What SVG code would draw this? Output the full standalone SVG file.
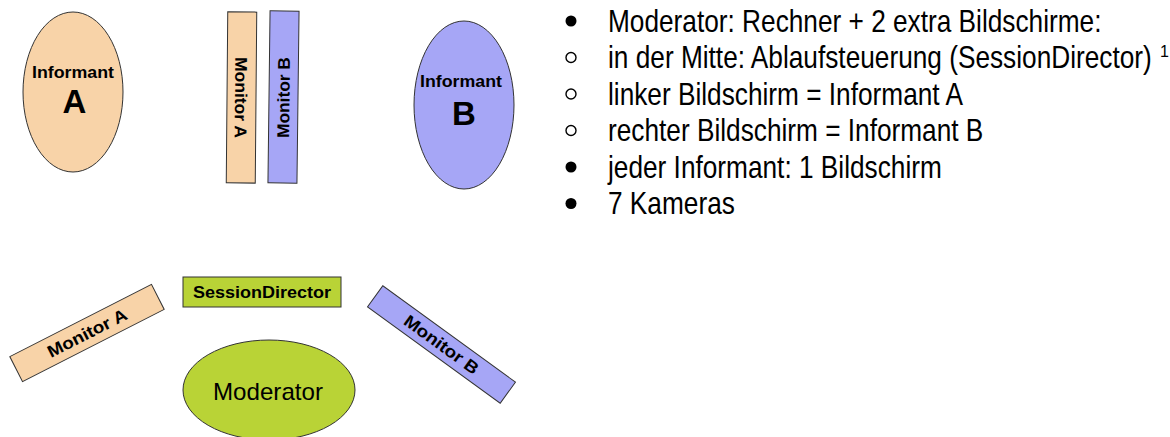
<svg xmlns="http://www.w3.org/2000/svg" width="1170" height="437" viewBox="0 0 1170 437">
<style>
.peach{fill:#F8D3A8;stroke:#333;stroke-width:1}
.blue{fill:#A6A6F6;stroke:#333;stroke-width:1}
.green{fill:#B9D336;stroke:#333;stroke-width:1}
.lbl{font-family:"Liberation Sans",Arial,sans-serif;font-weight:bold;fill:#000}
.big{font-family:"Liberation Sans",Arial,sans-serif;font-weight:bold;fill:#000;font-size:33px}
.mod{font-family:"Liberation Sans",Arial,sans-serif;fill:#000;font-size:24px}
.list{font-family:"Liberation Sans",Arial,sans-serif;fill:#000;font-size:32px}
.sup{font-family:"Liberation Sans",Arial,sans-serif;fill:#000;font-size:16px}
.dot{fill:#000}
.ring{fill:none;stroke:#000;stroke-width:1.4}
</style>
<rect width="1170" height="437" fill="#fff"/>
<g id="connectors"/>
<g id="informant-a">
<ellipse class="peach" cx="73" cy="92" rx="50" ry="80"/>
<text class="lbl" x="73" y="78" font-size="16" text-anchor="middle" textLength="82" lengthAdjust="spacingAndGlyphs">Informant</text>
<text class="big" x="74.5" y="113" text-anchor="middle">A</text>
</g>
<g id="monitor-a-top" transform="rotate(0.5 241.5 97.5)">
<rect class="peach" x="227" y="12" width="29" height="171"/>
<text class="lbl" transform="translate(241 97.5) rotate(90)" y="6" font-size="17" text-anchor="middle" textLength="81" lengthAdjust="spacingAndGlyphs">Monitor A</text>
</g>
<g id="monitor-b-top" transform="rotate(0.7 283.5 97)">
<rect class="blue" x="269" y="11" width="29" height="172"/>
<text class="lbl" transform="translate(283.5 97.5) rotate(-90)" y="6" font-size="17" text-anchor="middle" textLength="81" lengthAdjust="spacingAndGlyphs">Monitor B</text>
</g>
<g id="informant-b">
<ellipse class="blue" cx="464" cy="105" rx="50" ry="84"/>
<text class="lbl" x="461" y="87" font-size="16" text-anchor="middle" textLength="82" lengthAdjust="spacingAndGlyphs">Informant</text>
<text class="big" x="464" y="125" text-anchor="middle">B</text>
</g>
<g id="monitor-a-bottom" transform="translate(87 333) rotate(-27)">
<rect class="peach" x="-79.5" y="-14" width="159" height="28"/>
<text class="lbl" x="0" y="6" font-size="17" text-anchor="middle" textLength="87" lengthAdjust="spacingAndGlyphs">Monitor A</text>
</g>
<g id="session-director">
<rect class="green" x="183" y="277" width="158" height="30"/>
<text class="lbl" x="262" y="298" font-size="16" text-anchor="middle" textLength="138" lengthAdjust="spacingAndGlyphs">SessionDirector</text>
</g>
<g id="monitor-b-bottom" transform="translate(441.5 344.5) rotate(36)">
<rect class="blue" x="-82" y="-13" width="164" height="26"/>
<text class="lbl" x="0" y="6" font-size="17" text-anchor="middle" textLength="88" lengthAdjust="spacingAndGlyphs">Monitor B</text>
</g>
<g id="moderator">
<ellipse class="green" cx="269" cy="390" rx="86" ry="50"/>
<text class="mod" x="268" y="400" text-anchor="middle" textLength="110" lengthAdjust="spacingAndGlyphs">Moderator</text>
</g>
<g id="bullet-list">
<circle class="dot" cx="571" cy="21" r="5.5"/>
<circle class="ring" cx="571" cy="57.5" r="5"/>
<circle class="ring" cx="571" cy="94" r="5"/>
<circle class="ring" cx="571" cy="130.5" r="5"/>
<circle class="dot" cx="571" cy="167" r="5.5"/>
<circle class="dot" cx="571" cy="203.5" r="5.5"/>
<g transform="translate(608 0) scale(0.82 1)">
<text class="list" x="0" y="32">Moderator: Rechner + 2 extra Bildschirme:</text>
<text class="list" x="0" y="68.5">in der Mitte: Ablaufsteuerung (SessionDirector)</text>
<text class="list" x="0" y="105">linker Bildschirm = Informant A</text>
<text class="list" x="0" y="141.5">rechter Bildschirm = Informant B</text>
<text class="list" x="0" y="178">jeder Informant: 1 Bildschirm</text>
<text class="list" x="0" y="214.5">7 Kameras</text>
</g>
<text class="sup" x="1160" y="57">1</text>
</g>
</svg>
